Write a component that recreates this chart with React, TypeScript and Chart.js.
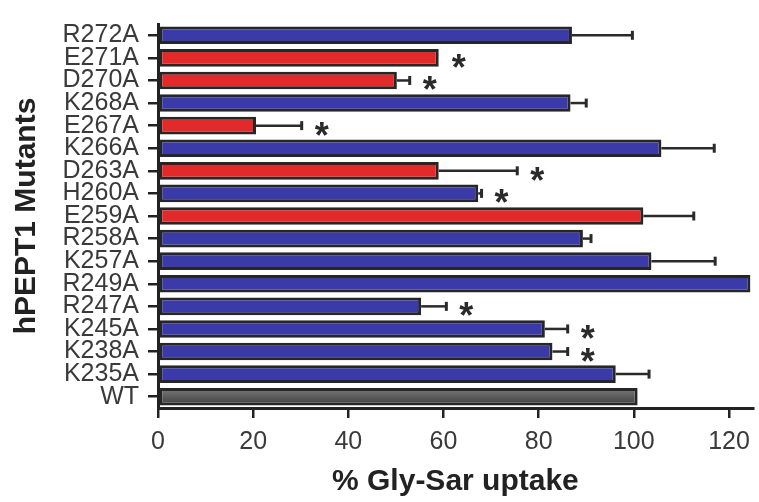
import React, { useEffect, useRef } from "react";
import { Chart, registerables } from "chart.js";

Chart.register(...registerables);

const categories = ["R272A", "E271A", "D270A", "K268A", "E267A", "K266A", "D263A", "H260A", "E259A", "R258A", "K257A", "R249A", "R247A", "K245A", "K238A", "K235A", "WT"];
const uptake = [87.0, 59.0, 50.2, 86.7, 20.6, 105.8, 59.0, 67.3, 102.0, 89.3, 103.7, 124.5, 55.3, 81.3, 82.9, 96.2, 100.8];
const uptakeError = [12.7, 0, 2.7, 3.3, 9.6, 11.1, 16.5, 0.7, 10.6, 1.7, 13.4, 0, 5.3, 4.8, 3.2, 7.0, 0];
const residueGroup = ["basic", "acidic", "acidic", "basic", "acidic", "basic", "acidic", "basic", "acidic", "basic", "basic", "basic", "basic", "basic", "basic", "basic", "wt"];
const significant = [false, true, true, false, true, false, true, true, false, false, false, false, true, true, true, false, false];
const xTicks = [0, 20, 40, 60, 80, 100, 120];

const groupColor: Record<string, string> = {
  basic: "#3a3aa8",
  acidic: "#e32a2a",
  wt: "#5e5e5e",
};

const FONT = "'Liberation Sans', Arial, Helvetica, sans-serif";

const errorStarPlugin = {
  id: "errorStar",
  afterDatasetsDraw(chart: any) {
    const ctx = chart.ctx;
    const meta = chart.getDatasetMeta(0);
    const xs = chart.scales.x;
    ctx.save();
    meta.data.forEach((el: any, i: number) => {
      const y = el.y;
      let endX = el.x;
      const err = uptakeError[i];
      if (err > 0) {
        const ex = xs.getPixelForValue(uptake[i] + err);
        ctx.strokeStyle = "#2a2a2a";
        ctx.lineWidth = 2.5;
        ctx.beginPath();
        ctx.moveTo(el.x, y);
        ctx.lineTo(ex, y);
        ctx.stroke();
        ctx.lineWidth = 3;
        ctx.beginPath();
        ctx.moveTo(ex, y - 4.5);
        ctx.lineTo(ex, y + 4.5);
        ctx.stroke();
        endX = ex;
      }
      if (significant[i]) {
        ctx.fillStyle = "#2a2a2a";
        ctx.font = `bold 36px ${FONT}`;
        ctx.textAlign = "center";
        ctx.textBaseline = "alphabetic";
        const m = ctx.measureText("*");
        const mid = (m.actualBoundingBoxAscent - m.actualBoundingBoxDescent) / 2;
        ctx.fillText("*", endX + 20, y + 3 + mid);
      }
    });
    ctx.restore();
  },
};

export default function App() {
  const ref = useRef<HTMLCanvasElement>(null);
  useEffect(() => {
    if (!ref.current) return;
    const chart = new Chart(ref.current, {
      type: "bar",
      data: {
        labels: categories,
        datasets: [
          {
            data: uptake,
            backgroundColor: (c: any) => {
              const g = residueGroup[c.dataIndex];
              if (g !== "wt") return groupColor[g];
              const ys = c.chart.scales?.y;
              if (!ys || !c.chart.chartArea) return groupColor[g];
              const cy = ys.getPixelForValue(c.dataIndex);
              const grad = c.chart.ctx.createLinearGradient(0, cy - 9, 0, cy + 9);
              grad.addColorStop(0, "#7a7a7a");
              grad.addColorStop(0.5, "#5c5c5c");
              grad.addColorStop(1, "#3c3c3c");
              return grad;
            },
            borderColor: "#262626",
            borderWidth: 3,
            borderSkipped: false,
            barPercentage: 0.78,
            categoryPercentage: 1,
          },
        ],
      },
      options: {
        indexAxis: "y",
        animation: false,
        responsive: true,
        maintainAspectRatio: false,
        layout: { padding: { top: 9, right: 4, left: 0, bottom: 0 } },
        plugins: { legend: { display: false }, tooltip: { enabled: false } },
        scales: {
          x: {
            type: "linear",
            min: 0,
            max: 125,
            afterFit: (s: any) => {
              s.height = 94;
            },
            afterBuildTicks: (s: any) => {
              s.ticks = xTicks.map((v) => ({ value: v }));
            },
            ticks: {
              color: "#3a3a3a",
              font: { size: 25, family: FONT },
              padding: 9,
              maxRotation: 0,
            },
            grid: {
              drawOnChartArea: false,
              drawTicks: true,
              tickLength: 10,
              color: "#222",
              lineWidth: 2.5,
            },
            border: { display: true, color: "#222", width: 3 },
            title: {
              display: true,
              text: "% Gly-Sar uptake",
              color: "#222",
              font: { size: 30, weight: "bold", family: FONT },
              padding: { top: 0, bottom: 2 },
            },
          },
          y: {
            type: "category",
            afterFit: (s: any) => {
              s.width = 158;
            },
            ticks: {
              color: "#3a3a3a",
              font: { size: 25, family: FONT },
              padding: 9,
              autoSkip: false,
            },
            grid: {
              offset: false,
              drawOnChartArea: false,
              drawTicks: true,
              tickLength: 10,
              color: "#222",
              lineWidth: 2.5,
            },
            border: { display: true, color: "#222", width: 3 },
            title: {
              display: true,
              text: "hPEPT1 Mutants",
              color: "#222",
              font: { size: 30, weight: "bold", family: FONT },
              padding: { top: 9, bottom: 0 },
            },
          },
        },
      },
      plugins: [errorStarPlugin],
    } as any);
    return () => chart.destroy();
  }, []);
  return (
    <div style={{ position: "fixed", left: 0, top: 0, width: 759, height: 502, background: "#fff" }}>
      <canvas ref={ref} />
    </div>
  );
}
